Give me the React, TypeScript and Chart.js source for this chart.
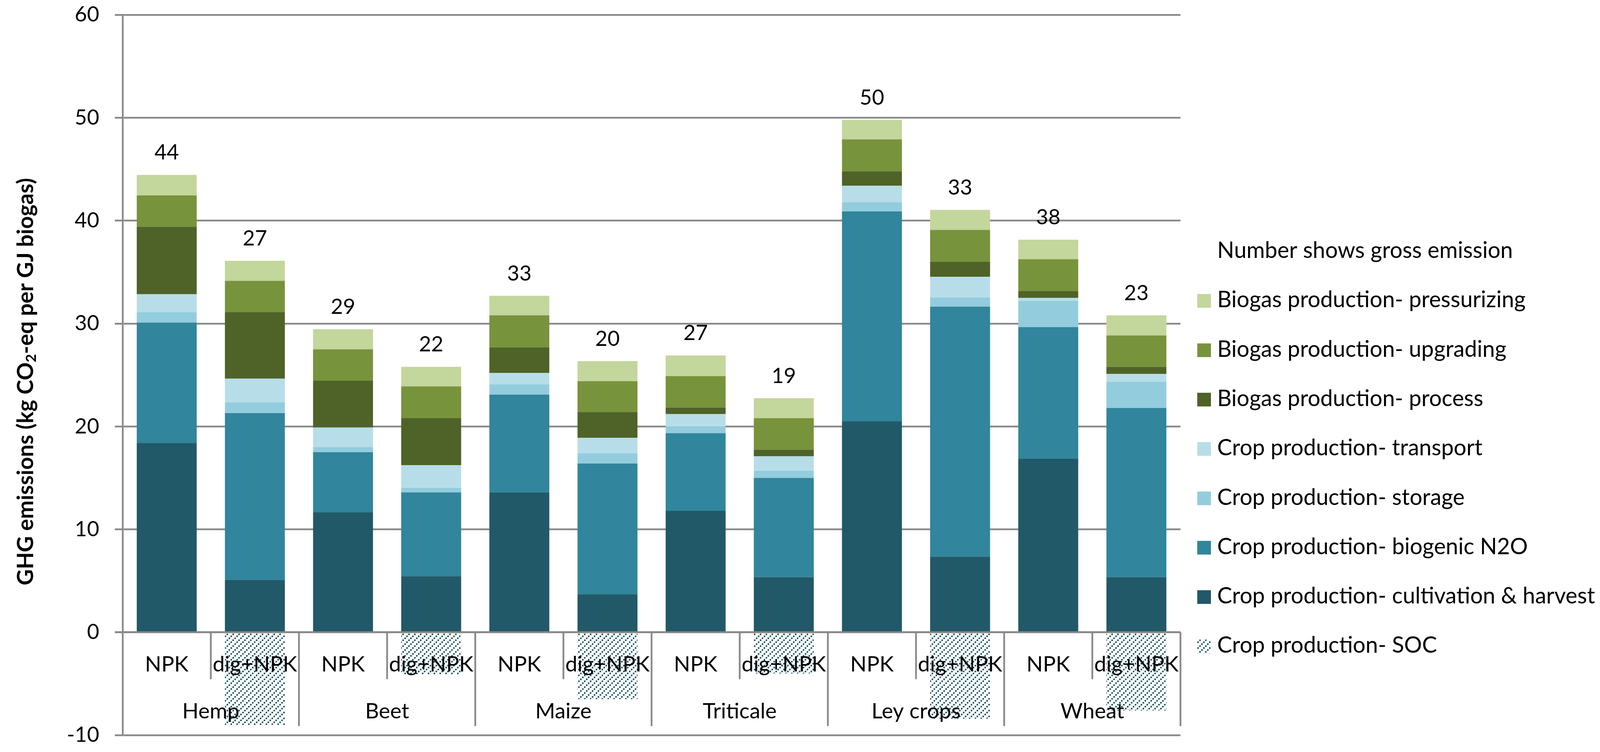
import React, { useEffect, useRef } from 'react';
import { Chart, registerables } from 'chart.js';

Chart.register(...registerables);

// ---------- data ----------
const treatments = ['NPK', 'dig+NPK', 'NPK', 'dig+NPK', 'NPK', 'dig+NPK', 'NPK', 'dig+NPK', 'NPK', 'dig+NPK', 'NPK', 'dig+NPK'];
const crops = ['Hemp', 'Beet', 'Maize', 'Triticale', 'Ley crops', 'Wheat'];

const cultivationHarvest = [18.4, 5.1, 11.65, 5.45, 13.6, 3.7, 11.8, 5.35, 20.5, 7.35, 16.85, 5.35];
const biogenicN2O = [11.7, 16.2, 5.85, 8.15, 9.5, 12.7, 7.55, 9.65, 20.4, 24.3, 12.8, 16.45];
const cropStorage = [1.0, 1.05, 0.5, 0.45, 1.0, 1.0, 0.65, 0.7, 0.9, 0.9, 2.55, 2.55];
const cropTransport = [1.75, 2.3, 1.9, 2.2, 1.1, 1.5, 1.2, 1.4, 1.6, 2.0, 0.3, 0.75];
const biogasProcess = [6.55, 6.45, 4.55, 4.55, 2.5, 2.5, 0.65, 0.65, 1.4, 1.45, 0.65, 0.7];
const biogasUpgrading = [3.05, 3.05, 3.05, 3.1, 3.1, 3.0, 3.05, 3.05, 3.1, 3.1, 3.1, 3.05];
const biogasPressurizing = [2.0, 1.95, 1.95, 1.9, 1.9, 1.95, 2.0, 1.95, 1.9, 1.95, 1.9, 1.95];
const cropSOC = [0, -9.0, 0, -4.1, 0, -6.5, 0, -4.0, 0, -8.4, 0, -7.6];
const grossEmission = [44, 27, 29, 22, 33, 20, 27, 19, 50, 33, 38, 23];

const yMin = -10;
const yMax = 60;
const yStep = 10;

const legendNote = 'Number shows gross emission';
const seriesNames = [
  'Crop production- cultivation & harvest',
  'Crop production- biogenic N2O',
  'Crop production- storage',
  'Crop production- transport',
  'Biogas production- process',
  'Biogas production- upgrading',
  'Biogas production- pressurizing',
  'Crop production- SOC',
];
const seriesValues = [
  cultivationHarvest,
  biogenicN2O,
  cropStorage,
  cropTransport,
  biogasProcess,
  biogasUpgrading,
  biogasPressurizing,
  cropSOC,
];
const seriesColors = ['#215968', '#31859C', '#93CDDD', '#B7DEE8', '#4F6228', '#77933C', '#C3D69B', 'hatch'];
const legendOrder = [6, 5, 4, 3, 2, 1, 0, 7];

// ---------- styling ----------
const W = 4106;
const H = 1924;
const AXIS_COLOR = '#898989';
const LINE_W = 4.5;
const FONT = 'Lato, "Liberation Sans", Arial, sans-serif';

function makeHatch(): CanvasPattern | string {
  const tile = document.createElement('canvas');
  tile.width = 15;
  tile.height = 15;
  const g = tile.getContext('2d');
  if (!g) return '#215968';
  g.fillStyle = '#ffffff';
  g.fillRect(0, 0, 15, 15);
  g.fillStyle = '#215968';
  g.fillRect(0, 11, 4, 4);
  g.fillRect(5, 6, 4, 4);
  g.fillRect(10, 1, 4, 4);
  return g.createPattern(tile, 'repeat') || '#215968';
}

function drawYTitle(ctx: CanvasRenderingContext2D, baseX: number, centerY: number) {
  const p1 = 'GHG emissions (kg CO';
  const p2 = '2';
  const p3 = '-eq per GJ biogas)';
  const target = 1042;
  ctx.font = `bold 100px ${FONT}`;
  const a = ctx.measureText(p1).width;
  const c = ctx.measureText(p3).width;
  ctx.font = `bold 65px ${FONT}`;
  const b = ctx.measureText(p2).width;
  const size = (100 * target) / (a + b + c);
  const subSize = size * 0.65;
  ctx.save();
  ctx.translate(baseX, centerY);
  ctx.rotate(-Math.PI / 2);
  ctx.fillStyle = '#000';
  ctx.textBaseline = 'alphabetic';
  ctx.textAlign = 'left';
  ctx.font = `bold ${size}px ${FONT}`;
  const w1 = ctx.measureText(p1).width;
  const w3 = ctx.measureText(p3).width;
  ctx.font = `bold ${subSize}px ${FONT}`;
  const w2 = ctx.measureText(p2).width;
  let x = -(w1 + w2 + w3) / 2;
  ctx.font = `bold ${size}px ${FONT}`;
  ctx.fillText(p1, x, 0);
  x += w1;
  ctx.font = `bold ${subSize}px ${FONT}`;
  ctx.fillText(p2, x, size * 0.12);
  x += w2;
  ctx.font = `bold ${size}px ${FONT}`;
  ctx.fillText(p3, x, 0);
  ctx.restore();
}

const decorPlugin = {
  id: 'decor',
  afterDatasetsDraw(chart: any) {
    const { ctx, chartArea, scales } = chart;
    const xs = scales.x;
    const ys = scales.y;
    const y0 = ys.getPixelForValue(0);
    const step = xs.getPixelForValue(1) - xs.getPixelForValue(0);
    ctx.save();
    ctx.strokeStyle = AXIS_COLOR;
    ctx.lineWidth = LINE_W;
    ctx.beginPath();
    ctx.moveTo(chartArea.left - 20, y0);
    ctx.lineTo(chartArea.right, y0);
    ctx.stroke();
    for (let i = 1; i <= treatments.length; i++) {
      const x = xs.getPixelForValue(i - 1) + step / 2;
      const isGroupEnd = i % 2 === 0;
      ctx.beginPath();
      ctx.moveTo(x, y0);
      ctx.lineTo(x, y0 + (isGroupEnd ? 240 : 120));
      ctx.stroke();
    }
    ctx.fillStyle = '#000';
    ctx.textAlign = 'center';
    ctx.textBaseline = 'alphabetic';
    ctx.font = `55px ${FONT}`;
    treatments.forEach((t, i) => {
      ctx.fillText(t, xs.getPixelForValue(i), y0 + 100);
    });
    crops.forEach((c, gi) => {
      const cx = (xs.getPixelForValue(2 * gi) + xs.getPixelForValue(2 * gi + 1)) / 2;
      ctx.fillText(c, cx, y0 + 220);
    });
    ctx.font = `54px ${FONT}`;
    grossEmission.forEach((v, i) => {
      let top = 0;
      for (let k = 0; k < 7; k++) top += seriesValues[k][i];
      ctx.fillText(String(v), xs.getPixelForValue(i), ys.getPixelForValue(top) - 39);
    });
    ctx.restore();
  },
  afterDraw(chart: any) {
    const { ctx, chartArea } = chart;
    ctx.save();
    // legend
    ctx.font = `100px ${FONT}`;
    const ref = ctx.measureText(seriesNames[6]).width;
    const size = (100 * 790) / ref;
    ctx.font = `${size}px ${FONT}`;
    ctx.fillStyle = '#000';
    ctx.textAlign = 'left';
    ctx.textBaseline = 'alphabetic';
    const markerX = chartArea.right + 43;
    const textX = chartArea.right + 94;
    const baseY = chartArea.top + 622;
    const rowStep = 126.3;
    ctx.fillText(legendNote, textX, baseY);
    legendOrder.forEach((k, r) => {
      const by = baseY + rowStep * (r + 1);
      const ds = chart.data.datasets[k];
      ctx.fillStyle = ds.backgroundColor;
      ctx.fillRect(markerX, by - 34, 35, 35);
      ctx.fillStyle = '#000';
      ctx.fillText(seriesNames[k], textX, by);
    });
    ctx.restore();
    drawYTitle(ctx, chartArea.left - 229, (chartArea.top + chartArea.bottom) / 2 + 17);
  },
};

export default function App() {
  const ref = useRef<HTMLCanvasElement>(null);
  useEffect(() => {
    document.body.style.margin = '0';
    const canvas = ref.current;
    if (!canvas) return;
    const hatch = makeHatch();
    const datasets = seriesValues.map((vals, k) => ({
      label: seriesNames[k],
      data: vals,
      backgroundColor: seriesColors[k] === 'hatch' ? hatch : seriesColors[k],
      borderWidth: 0,
      barPercentage: 0.68,
      categoryPercentage: 1,
      stack: 'total',
    }));
    const chart = new Chart(canvas, {
      type: 'bar',
      data: { labels: treatments, datasets: datasets as any },
      options: {
        responsive: false,
        animation: false,
        devicePixelRatio: 1,
        layout: { padding: { left: 0, right: 1084, top: 38, bottom: 43 } },
        plugins: {
          legend: { display: false },
          tooltip: { enabled: false },
          title: { display: false },
        },
        scales: {
          x: { display: false, stacked: true },
          y: {
            stacked: true,
            min: yMin,
            max: yMax,
            ticks: {
              stepSize: yStep,
              color: '#000',
              padding: 40,
              font: { family: FONT, size: 54 },
            },
            grid: {
              color: AXIS_COLOR,
              lineWidth: LINE_W,
              tickLength: 20,
              drawTicks: true,
            },
            border: { display: true, color: AXIS_COLOR, width: LINE_W },
            afterFit: (scale: any) => {
              scale.width = 314;
              scale.paddingTop = 0;
              scale.paddingBottom = 0;
            },
          },
        },
      },
      plugins: [decorPlugin],
    } as any);
    return () => chart.destroy();
  }, []);
  return (
    <div style={{ width: W, height: H }}>
      <canvas ref={ref} width={W} height={H} style={{ display: 'block', width: W, height: H }} />
    </div>
  );
}
